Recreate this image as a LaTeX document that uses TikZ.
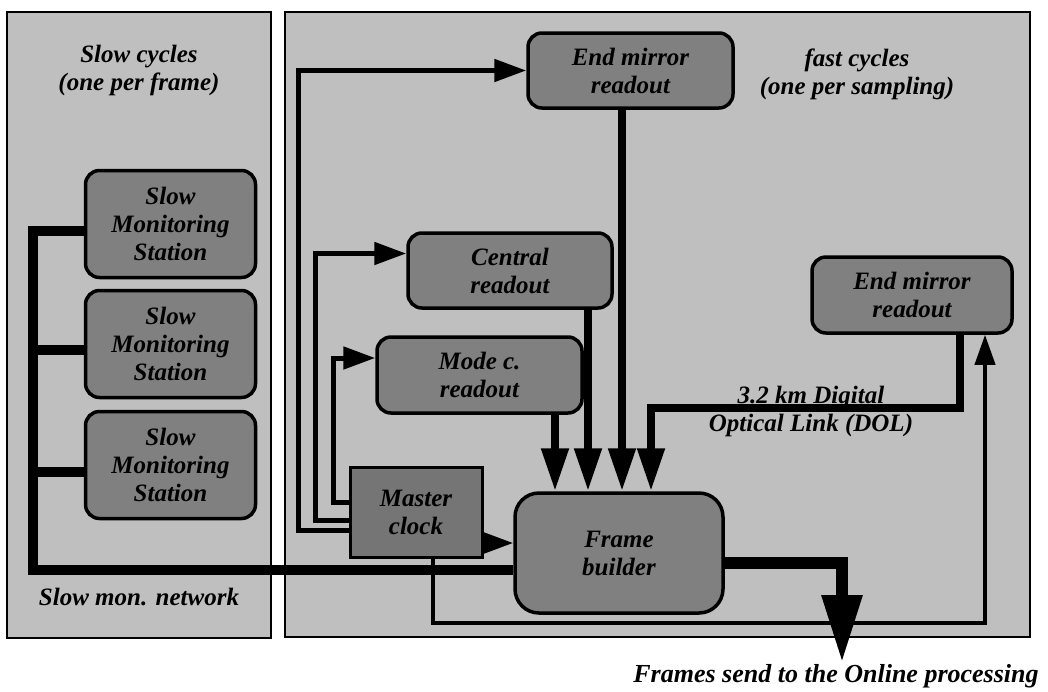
\documentclass[tikz,border=0pt]{standalone}
\usepackage{fontspec}
\setmainfont{Liberation Serif}
\usetikzlibrary{arrows.meta}
\definecolor{panelbg}{gray}{0.75}
\definecolor{boxbg}{gray}{0.50}
\definecolor{clkbg}{gray}{0.46}
\begin{document}
\begin{tikzpicture}[x=1pt,y=-1pt,
  lbl/.style={font=\fontsize{25}{28}\selectfont\bfseries\itshape, align=center, inner sep=0pt},
  panel/.style={draw=black, line width=2.5pt, fill=panelbg, inner sep=0pt},
  rbox/.style={lbl, draw=black, line width=3.5pt, fill=boxbg, rounded corners=14pt},
  clkbox/.style={lbl, draw=black, line width=3pt, fill=clkbg},
  thinarrow/.style={line width=5pt, -{Triangle[width=22pt,length=32pt]}},
  smallarrow/.style={line width=4pt, -{Triangle[width=20pt,length=30pt]}},
  bigarrow/.style={line width=8pt, -{Triangle[width=26pt,length=43pt]}},
  bus/.style={line width=10pt},
  outarrow/.style={line width=12pt, -{Triangle[width=38pt,length=68pt]}},
]
\useasboundingbox (0,0) rectangle (1048,691);
\fill[white] (0,0) rectangle (1048,691);

% panels
\node[panel, minimum width=264pt, minimum height=626pt] (lp) at (139,325) {};
\node[panel, minimum width=745pt, minimum height=625pt] (rp) at (657.5,324.5) {};

% panel labels
\node[lbl] (tslow) at (139,70) {Slow cycles\\(one per frame)};
\node[lbl] (tfast) at (857,74) {fast cycles\\(one per sampling)};
\node[lbl] (tnet) at (139,597) {Slow mon. network};
\node[lbl] (tdol) at (811,411) {3.2 km Digital\\Optical Link (DOL)};
\node[lbl, font=\fontsize{26}{28}\selectfont\bfseries\itshape] (tout) at (836,676) {Frames send to the Online processing};

% boxes
\node[rbox, minimum width=170pt, minimum height=107pt] (s1) at (170.5,224) {Slow\\Monitoring\\Station};
\node[rbox, minimum width=170pt, minimum height=107pt] (s2) at (170.5,344) {Slow\\Monitoring\\Station};
\node[rbox, minimum width=170pt, minimum height=107pt] (s3) at (170.5,465) {Slow\\Monitoring\\Station};
\node[rbox, minimum width=205pt, minimum height=75pt] (em1) at (630.5,70.5) {End mirror\\readout};
\node[rbox, minimum width=204pt, minimum height=75pt] (cr) at (510,270.5) {Central\\readout};
\node[rbox, minimum width=205pt, minimum height=76pt] (mc) at (479.5,375) {Mode c.\\readout};
\node[clkbox, minimum width=132pt, minimum height=90pt] (clk) at (416,512) {Master\\clock};
\node[rbox, rounded corners=24pt, minimum width=208pt, minimum height=120pt] (fb) at (619,553) {Frame\\builder};
\node[rbox, minimum width=200pt, minimum height=76pt] (em2) at (912,295) {End mirror\\readout};

% slow monitoring network
\coordinate (busc) at (33,570);
\coordinate (s1a) at ([yshift=-7pt]s1.west);
\coordinate (s2a) at ([yshift=-6pt]s2.west);
\coordinate (s3a) at ([yshift=-7pt]s3.west);
\draw[bus] (s1a) -| (busc) -- (busc -| fb.west);
\draw[bus] (s2a) -- (s2a -| busc);
\draw[bus] (s3a) -- (s3a -| busc);

% master clock distribution
\coordinate (xo) at (298,0);
\coordinate (xm) at (315,0);
\coordinate (xi) at (333,0);
\coordinate (ca) at ([yshift=-18pt]clk.west);
\coordinate (cb) at ([yshift=-8pt]clk.west);
\coordinate (cc) at ([yshift=10pt]clk.west);
\coordinate (crw) at ([yshift=17pt]cr.west);
\coordinate (mcw) at ([yshift=17pt]mc.west);
\draw[thinarrow] (ca) -| (xo |- em1.west) -- (em1.west);
\draw[thinarrow] (cb) -| (xm |- crw) -- (crw);
\draw[thinarrow] (cc) -| (xi |- mcw) -- (mcw);
\coordinate (ce) at ([yshift=-31pt]clk.east);
\draw[thinarrow] (ce) -- (ce -| fb.west);

% clock to remote end mirror
\coordinate (kx) at (433,0);
\coordinate (lb) at (985,623);
\draw[smallarrow] (clk.south -| kx) |- (lb) -- (lb |- em2.south);

% readouts into frame builder
\coordinate (ka) at (555,0);
\coordinate (kb) at (588,0);
\coordinate (kc) at (622,0);
\coordinate (kd) at (960,0);
\coordinate (ke) at (651,408);
\draw[bigarrow] (mc.south -| ka) -- (fb.north -| ka);
\draw[bigarrow] (cr.south -| kb) -- (fb.north -| kb);
\draw[bigarrow] (em1.south -| kc) -- (fb.north -| kc);
\draw[bigarrow] (em2.south -| kd) |- (ke) -- (fb.north -| ke);

% output
\coordinate (outp) at (842,663);
\coordinate (fbo) at ([yshift=-10pt]fb.east);
\draw[outarrow] (fbo) -| (outp);
\end{tikzpicture}
\end{document}
